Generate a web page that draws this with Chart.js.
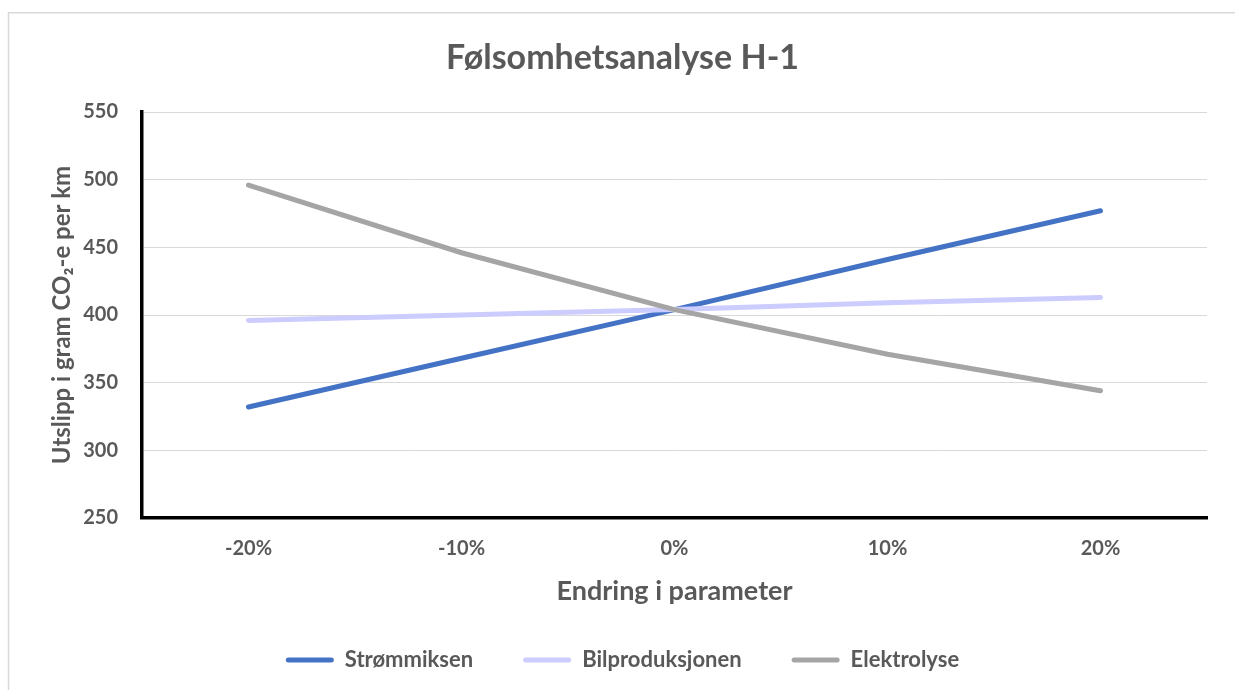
<!DOCTYPE html>
<html>
<head>
<meta charset="utf-8">
<script src="https://cdn.jsdelivr.net/npm/chart.js@4.4.1/dist/chart.umd.min.js"></script>
<style>
  html, body { margin: 0; padding: 0; background: #ffffff; }
  #wrap { width: 1235px; height: 690px; }
</style>
</head>
<body>
<div id="wrap"><canvas id="chart" width="1235" height="690"></canvas></div>
<script>
// Sensitivity of emissions (g CO2-e per km) to a change in each parameter
const categories = ['-20%', '-10%', '0%', '10%', '20%'];
const stromValues = [332, 368, 404, 441, 477];
const bilValues = [396, 400, 404, 409, 413];
const elektroValues = [496, 446, 404, 371, 344];
const yMin = 250;
const yMax = 550;
const yStep = 50;

const TEXT = '#595959';
const FONT = 'Lato, "Open Sans", sans-serif';

// Thin light frame around the chart (left and top edges)
const framePlugin = {
  id: 'frame',
  beforeDraw(chart) {
    const ctx = chart.ctx;
    ctx.save();
    ctx.fillStyle = '#ffffff';
    ctx.fillRect(0, 0, chart.width, chart.height);
    ctx.strokeStyle = '#D9D9D9';
    ctx.lineWidth = 1.5;
    ctx.beginPath();
    ctx.moveTo(8.5, chart.height);
    ctx.lineTo(8.5, 12.75);
    ctx.lineTo(chart.width, 12.75);
    ctx.stroke();
    ctx.restore();
  }
};

function lineSet(label, data, color, order) {
  return {
    label, data,
    borderColor: color,
    backgroundColor: color,
    borderWidth: 5,
    borderCapStyle: 'round',
    borderJoinStyle: 'round',
    pointRadius: 0,
    pointHoverRadius: 0,
    tension: 0,
    fill: false,
    order
  };
}

new Chart(document.getElementById('chart'), {
  type: 'line',
  data: {
    labels: categories,
    datasets: [
      lineSet('Strømmiksen', stromValues, '#4472C4', 2),
      lineSet('Bilproduksjonen', bilValues, '#CCCCFF', 1),
      lineSet('Elektrolyse', elektroValues, '#A5A5A5', 0)
    ]
  },
  options: {
    responsive: false,
    animation: false,
    devicePixelRatio: 1,
    layout: { padding: { left: 38, right: 28, top: 0, bottom: 9 } },
    plugins: {
      title: {
        display: true,
        text: 'Følsomhetsanalyse H-1',
        color: TEXT,
        font: { family: FONT, size: 34, weight: 'bold' },
        padding: { top: 38, bottom: 33.2 }
      },
      legend: {
        position: 'bottom',
        labels: {
          color: TEXT,
          font: { family: FONT, size: 22, weight: 'bold' },
          boxWidth: 48,
          boxHeight: 5,
          padding: 50,
          useBorderRadius: true,
          borderRadius: 2.5,
          generateLabels(chart) {
            return chart.data.datasets.map((ds, i) => ({
              text: ds.label,
              fillStyle: ds.borderColor,
              strokeStyle: ds.borderColor,
              lineWidth: 0,
              hidden: false,
              datasetIndex: i,
              fontColor: TEXT,
              borderRadius: 2.5
            }));
          }
        }
      },
      tooltip: { enabled: false }
    },
    scales: {
      x: {
        offset: true,
        grid: { display: false, drawTicks: false },
        border: { display: true, color: '#000000', width: 3.5 },
        ticks: { color: TEXT, font: { family: FONT, size: 20, weight: 'bold' }, padding: 19 },
        title: {
          display: true,
          text: 'Endring i parameter',
          color: TEXT,
          font: { family: FONT, size: 27, weight: 'bold' },
          padding: { top: 0, bottom: -8 }
        },
        afterFit(scale) { scale.height = 81; }
      },
      y: {
        min: yMin,
        max: yMax,
        grid: { color: '#D9D9D9', lineWidth: 1, drawTicks: false },
        border: { display: true, color: '#000000', width: 3.5 },
        ticks: { stepSize: yStep, color: TEXT, font: { family: FONT, size: 20, weight: 'bold' }, padding: 24 },
        title: {
          display: true,
          text: 'Utslipp i gram CO₂-e per km',
          color: TEXT,
          font: { family: FONT, size: 24, weight: 'bold' },
          padding: { top: 9.6, bottom: 0 }
        },
        afterFit(scale) { scale.width = 104; }
      }
    }
  },
  plugins: [framePlugin]
});
</script>
</body>
</html>
